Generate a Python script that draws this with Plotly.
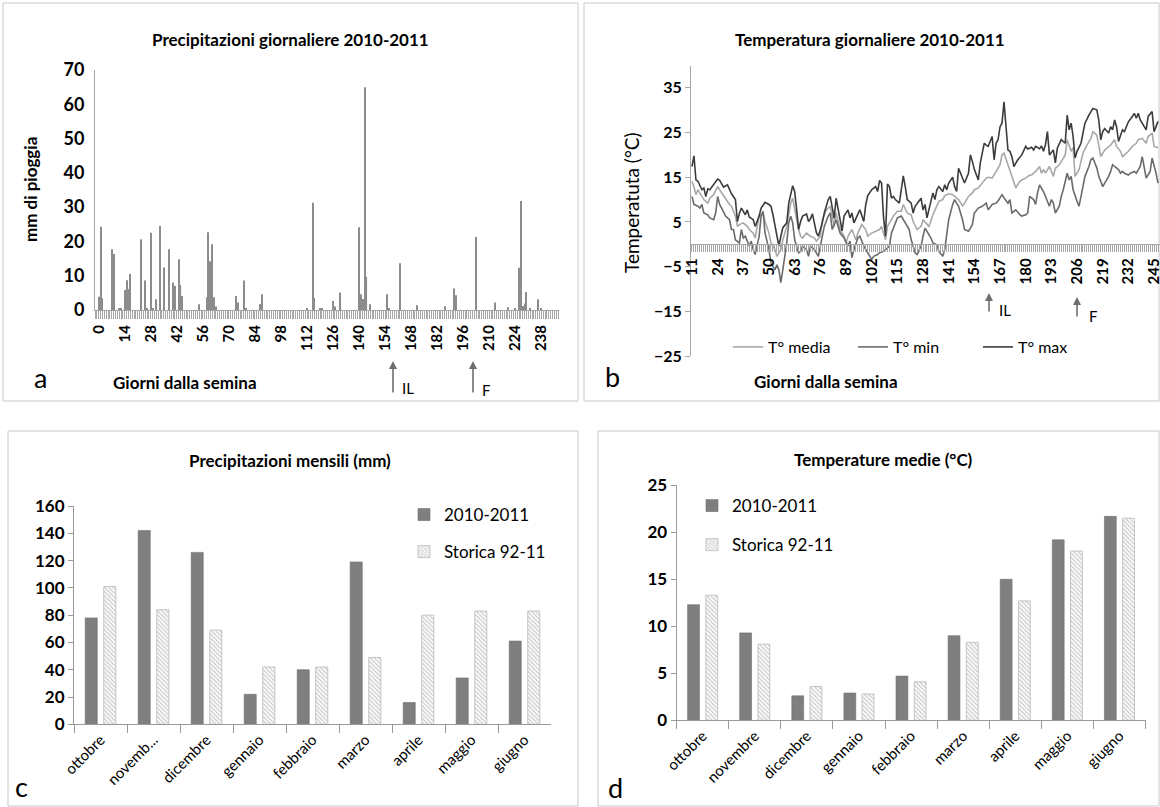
import plotly.graph_objects as go

W, H = 1160, 807
FONT = "Lato"


def px(x):
    return x / W


def py(y):
    return 1 - y / H


# ---------------- Panel a: daily rainfall ----------------
rain_days = [0, 1, 2, 7, 8, 11, 12, 14, 15, 16, 17, 23, 25, 26, 28, 29, 31, 33, 35, 38,
             40, 41, 43, 44, 45, 54, 58, 59, 60, 61, 62, 63, 74, 75, 78, 79, 87, 88,
             112, 115, 116, 119, 120, 126, 127, 130, 140, 141, 142, 143, 144, 146,
             155, 156, 162, 171, 186, 191, 192, 203, 213, 220, 224, 226, 227, 228,
             229, 230, 232, 236, 238]
rain_mm = [3.9, 24.3, 3.4, 17.7, 16.3, 0.3, 0.3, 5.8, 8.7, 6.1, 10.5, 20.6, 8.6, 0.5, 22.5,
           0.3, 3.1, 24.5, 12.4, 17.7, 8.0, 7.0, 14.8, 7.3, 4.1, 1.7, 3.7, 22.7, 14.2, 19.2,
           3.7, 1.0, 4.1, 2.2, 8.6, 0.6, 1.7, 4.6, 0.3, 31.3, 3.5, 0.4, 0.6, 2.6, 1.0, 5.1,
           24.1, 4.6, 3.2, 65.0, 9.7, 1.7, 4.6, 0.3, 13.6, 1.4, 1.1, 6.3, 4.3, 21.3, 2.2,
           0.8, 0.3, 12.3, 31.8, 1.2, 1.9, 5.2, 0.3, 3.1, 0.3]
rain_ticks = list(range(0, 239, 14))

# ---------------- Panel b: daily temperatures ----------------
tmax_days = [11, 12, 13, 14, 16, 17, 18, 19, 20, 22, 24, 25, 26, 27, 29, 30, 31, 33, 34, 35,
             36, 38, 39, 40, 42, 43, 45, 46, 48, 50, 51, 52, 53, 55, 56, 57, 59, 60, 62, 63,
             64, 65, 66, 67, 69, 70, 71, 72, 74, 75, 77, 78, 80, 81, 83, 84, 86, 87, 88, 90,
             91, 92, 93, 95, 96, 98, 99, 100, 102, 104, 105, 106, 107, 108, 109, 110, 111,
             112, 113, 114, 115, 116, 117, 118, 119, 120, 122, 123, 124, 125, 127, 128, 129,
             130, 132, 133, 134, 135, 136, 138, 139, 140, 141, 143, 144, 145, 146, 147, 148,
             149, 151, 152, 153, 154, 156, 157, 158, 159, 160, 161, 163, 164, 165, 166, 167,
             168, 169, 170, 171, 172, 173, 174, 175, 176, 178, 179, 180, 181, 183, 184, 185,
             187, 188, 189, 190, 191, 192, 194, 195, 196, 197, 198, 200, 201, 202, 203, 204,
             205, 206, 208, 209, 210, 212, 213, 214, 216, 217, 218, 219, 220, 222, 223, 224,
             225, 226, 227, 229, 230, 231, 232, 234, 235, 236, 237, 238, 239, 241, 242, 244,
             245, 246, 247]
tmax_vals = [17.4, 19.8, 14.4, 14.1, 12.2, 12.6, 10.7, 12.4, 12.2, 13.3, 14.6, 14.3, 13.5,
             12.8, 13.3, 12.2, 11.3, 10.0, 5.1, 6.9, 8.1, 6.6, 7.7, 6.1, 5.5, 4.0, 6.3, 8.1,
             9.4, 8.9, 8.5, 6.6, 4.0, -0.4, 1.8, 3.7, 4.8, 9.2, 13.1, 11.8, 7.7, 3.3, 5.1, 6.3,
             6.8, 5.1, 5.7, 6.8, 2.6, 1.8, 4.8, 7.0, 10.0, 10.7, 5.8, 10.3, 5.5, 3.0, 6.3, 7.7,
             5.9, 7.0, 4.8, 6.6, 7.7, 5.1, 8.9, 10.9, 12.2, 12.9, 11.8, 14.3, 13.7, 6.0, 1.8,
             13.5, 12.9, 10.3, 10.7, 10.0, 9.7, 9.2, 12.2, 15.3, 12.9, 10.0, 9.2, 7.0, 8.5,
             9.2, 10.3, 7.7, 8.9, 5.9, 10.0, 11.5, 10.0, 12.2, 12.9, 11.8, 13.3, 12.2, 13.7,
             15.0, 12.9, 11.8, 17.0, 15.9, 14.4, 13.7, 15.9, 20.0, 18.5, 16.7, 14.4, 18.2,
             20.4, 22.6, 22.2, 21.9, 24.1, 18.9, 22.6, 23.4, 26.3, 27.1, 31.9, 27.1, 21.1,
             20.8, 19.6, 17.4, 18.2, 18.9, 20.0, 20.8, 21.9, 21.3, 21.7, 21.1, 21.9, 21.4,
             22.0, 20.8, 22.3, 25.2, 20.0, 21.1, 18.2, 21.5, 22.3, 23.4, 22.6, 28.9, 25.6,
             27.1, 24.1, 19.3, 20.8, 22.6, 24.9, 27.1, 28.9, 29.7, 30.4, 30.1, 27.8, 23.4,
             25.2, 25.9, 24.9, 26.3, 25.6, 27.8, 26.3, 23.0, 25.6, 25.2, 26.3, 27.4, 28.6,
             29.3, 28.2, 29.3, 27.8, 27.1, 25.6, 28.6, 29.7, 25.2, 26.3, 27.5]

tmean_days = [11, 12, 13, 14, 16, 17, 19, 20, 22, 24, 25, 26, 28, 30, 31, 33, 34, 35, 37, 39,
              40, 42, 43, 45, 47, 48, 50, 51, 53, 54, 56, 57, 59, 61, 62, 63, 65, 66, 67, 69,
              71, 73, 74, 76, 77, 79, 81, 83, 84, 86, 88, 89, 90, 92, 94, 95, 97, 99, 100,
              102, 104, 106, 107, 109, 110, 111, 113, 115, 117, 118, 120, 122, 123, 125, 127,
              128, 130, 131, 133, 135, 136, 138, 139, 141, 143, 144, 146, 148, 149, 151, 153,
              154, 156, 158, 160, 161, 163, 165, 166, 167, 168, 169, 171, 172, 173, 175, 176,
              177, 178, 180, 182, 183, 185, 187, 188, 189, 190, 192, 193, 194, 195, 197, 198,
              200, 201, 203, 204, 205, 207, 208, 209, 211, 213, 214, 216, 217, 218, 220, 221,
              223, 225, 226, 228, 229, 230, 232, 234, 236, 237, 239, 241, 242, 244, 245, 247]
tmean_vals = [14.1, 12.9, 11.1, 12.2, 10.7, 10.0, 9.2, 10.3, 11.1, 12.9, 12.2, 11.5, 10.0,
              8.9, 8.5, 6.3, 4.0, 4.4, 4.8, 4.0, 3.3, 2.5, 1.4, 6.3, 7.0, 5.1, 2.5, 0.3, -1.2,
              -2.7, -1.2, 1.0, 4.0, 9.2, 10.3, 7.7, 3.3, 1.8, 1.4, 2.5, 1.8, 1.4, 0.7, 1.8,
              5.5, 7.7, 8.5, 4.0, 7.0, 3.3, 1.8, 0.3, 1.8, 3.3, 1.0, 2.5, 4.4, 3.3, 1.8, 2.5,
              2.9, 3.3, 4.0, 1.0, 4.0, 4.8, 6.3, 7.4, 7.4, 8.9, 7.0, 6.6, 5.1, 3.3, 4.0, 5.5,
              4.4, 4.0, 6.6, 8.9, 9.6, 10.0, 10.9, 11.3, 11.1, 10.7, 10.0, 8.6, 9.2, 10.7,
              11.5, 12.2, 12.6, 13.7, 14.8, 15.0, 14.8, 16.3, 17.0, 17.8, 20.0, 20.4, 17.8,
              16.7, 15.2, 12.6, 13.4, 14.1, 14.4, 14.8, 15.5, 15.5, 16.3, 17.4, 15.9, 16.7,
              15.9, 17.4, 16.3, 15.2, 17.0, 17.8, 18.5, 20.0, 23.4, 20.8, 21.6, 15.2, 16.7,
              18.5, 20.4, 22.2, 23.7, 25.2, 24.4, 22.2, 19.6, 21.1, 21.4, 22.2, 23.4, 21.9,
              20.8, 19.6, 20.0, 20.8, 21.9, 22.6, 23.4, 23.7, 22.6, 24.1, 24.9, 21.9, 21.6]

tmin_days = [11, 12, 14, 15, 16, 17, 19, 20, 22, 23, 24, 25, 26, 28, 30, 31, 32, 33, 35, 36,
             37, 38, 40, 41, 42, 43, 45, 46, 47, 48, 50, 51, 53, 54, 55, 56, 57, 59, 60, 61,
             62, 63, 65, 66, 67, 69, 70, 71, 73, 74, 75, 76, 78, 80, 81, 82, 84, 86, 88, 90,
             91, 92, 93, 95, 96, 97, 98, 100, 102, 103, 105, 106, 108, 110, 111, 112, 114,
             115, 117, 118, 119, 121, 122, 124, 125, 127, 128, 129, 130, 132, 133, 135, 136,
             138, 139, 140, 141, 143, 144, 146, 148, 149, 151, 153, 154, 156, 158, 160, 161,
             163, 165, 166, 167, 168, 169, 171, 172, 173, 175, 176, 177, 178, 180, 181, 182,
             184, 185, 186, 187, 189, 190, 192, 193, 194, 195, 197, 198, 199, 201, 202, 203,
             204, 206, 207, 208, 209, 210, 212, 213, 214, 216, 217, 218, 219, 220, 222, 223,
             224, 225, 227, 228, 229, 230, 232, 233, 235, 236, 238, 239, 240, 241, 243, 244,
             246, 247]
tmin_vals = [10.7, 8.9, 8.5, 8.1, 8.9, 7.0, 6.6, 5.9, 5.5, 7.0, 10.7, 8.9, 8.1, 6.3, 5.5,
             3.3, 3.3, 1.0, 0.3, 3.3, 1.4, 1.8, -0.4, 0.7, -1.2, -2.3, 1.8, 6.3, 7.4, 2.5,
             -1.2, -4.2, -5.7, -4.6, -5.7, -8.6, -5.7, 0.3, 4.8, 6.3, 4.8, 1.0, -1.9, -1.6,
             -0.4, -1.2, -2.7, -0.4, -1.2, -1.9, -2.7, -0.4, 4.0, 6.3, 7.0, 3.3, 5.5, 2.5,
             1.4, -0.4, 0.7, -3.0, -1.2, 1.4, 1.8, 0.7, -0.4, -1.9, -3.4, -2.7, -2.3, -1.9,
             -1.6, -0.8, -0.4, 2.5, 4.8, 5.9, 6.3, 5.5, 4.8, 3.3, 1.0, -1.9, -2.3, -0.4, 1.8,
             3.6, 2.9, 1.4, 0.3, -0.1, -1.6, -2.7, -1.2, 1.8, 5.5, 8.9, 10.0, 8.5, 5.5, 3.3,
             2.9, 4.4, 7.0, 8.1, 8.5, 9.2, 7.7, 8.9, 9.2, 9.7, 10.3, 11.1, 10.4, 9.2, 10.0,
             7.0, 7.7, 7.0, 6.6, 6.3, 6.6, 7.0, 10.7, 10.0, 8.9, 11.5, 13.3, 11.8, 10.7, 8.5,
             10.0, 9.2, 7.0, 8.5, 10.7, 12.2, 15.9, 14.4, 15.2, 12.2, 9.6, 8.5, 10.7, 12.9,
             15.2, 17.4, 18.9, 19.3, 17.1, 15.2, 14.1, 12.9, 13.7, 15.2, 16.3, 17.8, 17.4,
             16.7, 15.9, 16.3, 15.9, 15.5, 15.9, 16.3, 15.9, 17.4, 19.6, 17.4, 14.8, 16.3,
             19.3, 15.9, 13.7]
temp_ticks = list(range(11, 246, 13))

# ---------------- Panels c and d: monthly ----------------
months_c = ["ottobre", "novemb...", "dicembre", "gennaio", "febbraio", "marzo",
            "aprile", "maggio", "giugno"]
months_d = ["ottobre", "novembre", "dicembre", "gennaio", "febbraio", "marzo",
            "aprile", "maggio", "giugno"]
rain_month_2010 = [78, 142, 126, 22, 40, 119, 16, 34, 61]
rain_month_hist = [101, 84, 69, 42, 42, 49, 80, 83, 83]
temp_month_2010 = [12.3, 9.3, 2.6, 2.9, 4.7, 9.0, 15.0, 19.2, 21.7]
temp_month_hist = [13.3, 8.1, 3.6, 2.8, 4.1, 8.3, 12.7, 18.0, 21.5]

DARK = "#7f7f7f"
AXC = "#a6a6a6"

fig = go.Figure()

# panel a bars
fig.add_trace(go.Bar(x=rain_days, y=rain_mm, width=0.6, xaxis="x", yaxis="y",
                     marker=dict(color="#8c8c8c", line=dict(width=0)), showlegend=False))

# panel b lines
fig.add_trace(go.Scatter(x=tmean_days, y=tmean_vals, mode="lines", name="T° media",
                         xaxis="x2", yaxis="y2", line=dict(color="#a8a8a8", width=1.6),
                         legend="legend"))
fig.add_trace(go.Scatter(x=tmin_days, y=tmin_vals, mode="lines", name="T° min",
                         xaxis="x2", yaxis="y2", line=dict(color="#6b6b6b", width=1.6),
                         legend="legend"))
fig.add_trace(go.Scatter(x=tmax_days, y=tmax_vals, mode="lines", name="T° max",
                         xaxis="x2", yaxis="y2", line=dict(color="#3c3c3c", width=1.6),
                         legend="legend"))

hatch = dict(shape="\\", fgcolor="#8f8f8f", bgcolor="white", size=3, solidity=0.4)

# panel c bars
fig.add_trace(go.Bar(x=months_c, y=rain_month_2010, name="2010-2011", xaxis="x3", yaxis="y3",
                     marker=dict(color=DARK, line=dict(color="#6e6e6e", width=0.6)),
                     legend="legend2", legendgroup="c1"))
fig.add_trace(go.Bar(x=months_c, y=rain_month_hist, name="Storica 92-11", xaxis="x3", yaxis="y3",
                     marker=dict(color="white", pattern=hatch,
                                 line=dict(color="#c4c4c4", width=1)),
                     legend="legend2", legendgroup="c2"))

# panel d bars
fig.add_trace(go.Bar(x=months_d, y=temp_month_2010, name="2010-2011", xaxis="x4", yaxis="y4",
                     marker=dict(color=DARK, line=dict(color="#6e6e6e", width=0.6)),
                     legend="legend3", legendgroup="d1"))
fig.add_trace(go.Bar(x=months_d, y=temp_month_hist, name="Storica 92-11", xaxis="x4", yaxis="y4",
                     marker=dict(color="white", pattern=hatch,
                                 line=dict(color="#c4c4c4", width=1)),
                     legend="legend3", legendgroup="d2"))

bold = lambda s: dict(family=FONT, size=s, color="black", weight="bold")
reg = lambda s: dict(family=FONT, size=s, color="black")

zero_b = 356 - 25 / 65 * (356 - 65.5)

fig.update_layout(
    width=W, height=H, margin=dict(l=0, r=0, t=0, b=0, autoexpand=False),
    paper_bgcolor="white", plot_bgcolor="white",
    barmode="group", bargap=0.3, bargroupgap=0.35,
    font=reg(15),
    xaxis=dict(domain=[px(95), px(559)], anchor="y", range=[-2, 247.5], automargin=False,
               tickmode="array", tickvals=rain_ticks, tickangle=-90,
               ticks="outside", ticklen=8, tickcolor=AXC,
               minor=dict(tickmode="linear", tick0=0, dtick=1, ticks="outside",
                          ticklen=8, tickcolor=AXC),
               showline=True, linecolor=AXC, showgrid=False, zeroline=False,
               tickfont=bold(15)),
    yaxis=dict(domain=[py(310), py(70)], anchor="x", range=[0, 70], dtick=10,
               automargin=False,
               showline=True, linecolor=AXC, showgrid=False, zeroline=False,
               ticks="", ticklabelstandoff=6, tickfont=bold(18)),
    xaxis2=dict(domain=[px(691), 1.0], anchor="free", position=py(zero_b),
                range=[10.5, 248], tickmode="array", tickvals=temp_ticks,
                automargin=False, ticklabeloverflow="allow",
                tickangle=-90, ticks="outside", ticklen=7, tickcolor=AXC,
                minor=dict(tickmode="linear", tick0=11, dtick=1, ticks="outside",
                           ticklen=7, tickcolor=AXC),
                showline=True, linecolor=AXC, showgrid=False, zeroline=False,
                tickfont=bold(15)),
    yaxis2=dict(domain=[py(356), py(65.5)], anchor="x2", range=[-25, 40],
                automargin=False,
                tickmode="array", tickvals=[-25, -15, -5, 5, 15, 25, 35],
                ticks="outside", ticklen=5, tickcolor=AXC,
                showline=True, linecolor=AXC, showgrid=False, zeroline=False,
                tickfont=bold(16)),
    xaxis3=dict(domain=[px(74), px(551)], anchor="y3", type="category", automargin=False,
                ticks="outside", tickson="boundaries", ticklen=8, tickcolor="#999",
                showline=True, linecolor="#999", tickangle=-45, tickfont=reg(15)),
    yaxis3=dict(domain=[py(724.3), py(506)], anchor="x3", range=[0, 160], dtick=20,
                automargin=False,
                ticks="outside", ticklen=5, tickcolor="#999",
                showline=True, linecolor="#999", showgrid=False, zeroline=False,
                tickfont=bold(17)),
    xaxis4=dict(domain=[px(676.6), px(1145.5)], anchor="y4", type="category",
                automargin=False,
                ticks="outside", tickson="boundaries", ticklen=8, tickcolor="#999",
                showline=True, linecolor="#999", tickangle=-45, tickfont=reg(15)),
    yaxis4=dict(domain=[py(720.3), py(485.3)], anchor="x4", range=[0, 25], dtick=5,
                automargin=False,
                ticks="outside", ticklen=5, tickcolor="#999",
                showline=True, linecolor="#999", showgrid=False, zeroline=False,
                tickfont=bold(17)),
    legend=dict(orientation="h", x=px(728), y=py(330), xanchor="left", yanchor="top",
                font=reg(16), bgcolor="rgba(0,0,0,0)", entrywidth=80,
                entrywidthmode="pixels", itemwidth=30),
    legend2=dict(orientation="v", x=px(404), y=py(497), xanchor="left", yanchor="top",
                 font=reg(17), bgcolor="rgba(0,0,0,0)", tracegroupgap=12, itemwidth=30),
    legend3=dict(orientation="v", x=px(692), y=py(488), xanchor="left", yanchor="top",
                 font=reg(17), bgcolor="rgba(0,0,0,0)", tracegroupgap=14, itemwidth=30),
)

# panel borders
border = dict(color="#c8c8c8", width=1)
for (x0, y0, x1, y1) in [(3, 3, 578, 401), (584, 3, 1159, 401),
                         (8, 431, 578, 806), (598, 431, 1159, 806)]:
    fig.add_shape(type="rect", xref="paper", yref="paper",
                  x0=px(x0), y0=py(y1), x1=px(x1), y1=py(y0), line=border,
                  fillcolor="rgba(0,0,0,0)", layer="below")


def text(x, y, s, font, angle=0, xanchor="center"):
    fig.add_annotation(x=px(x), y=py(y), xref="paper", yref="paper", text=s,
                       showarrow=False, font=font, textangle=angle,
                       xanchor=xanchor, yanchor="middle")


text(290, 40, "Precipitazioni giornaliere 2010-2011", bold(17))
text(870, 40, "Temperatura giornaliere 2010-2011", bold(17))
text(290, 460, "Precipitazioni mensili (mm)", bold(17))
text(883, 459, "Temperature medie (°C)", bold(17))
text(30, 190, "mm di pioggia", bold(17), angle=-90)
text(631, 203, "Temperatuta (°C)", reg(19), angle=-90)
text(185, 383, "Giorni dalla semina", bold(17))
text(826, 381, "Giorni dalla semina", bold(17))
text(40, 378, "a", reg(27))
text(612, 376, "b", reg(27))
text(21, 786, "c", reg(27))
text(615, 787, "d", reg(27))


def arrow(x, ytip, ybase, label, lx, ly):
    fig.add_annotation(x=px(x), y=py(ytip), xref="paper", yref="paper", text="",
                       showarrow=True, ax=0, ay=ybase - ytip, arrowhead=2,
                       arrowsize=1, arrowwidth=1.6, arrowcolor="#6e6e6e")
    text(lx, ly, label, reg(15), xanchor="left")


arrow(393, 361, 394, "IL", 400, 388)
arrow(473, 361, 394, "F", 480, 390)
arrow(989, 293, 313, "IL", 997, 310)
arrow(1077, 297, 318, "F", 1087, 316)

fig.write_html("out.html",
               config={"displayModeBar": False},
               post_script="document.body.style.margin='0';"
                           "document.body.style.overflow='hidden';")
